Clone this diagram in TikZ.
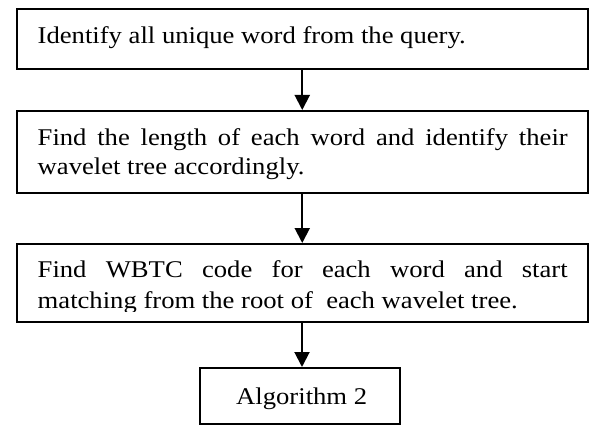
\documentclass[tikz,border=0pt]{standalone}
\usepackage{fontspec}
\setmainfont{Liberation Serif}
\usetikzlibrary{arrows.meta}
\newcommand{\wide}[1]{\scalebox{1.11}[1]{#1}}
\begin{document}
\begin{tikzpicture}[x=1pt,y=-1pt,
  stepbox/.style={draw=black,line width=2pt,rectangle,inner sep=0pt},
  txt/.style={inner sep=0pt,anchor=base west,font=\fontsize{24}{30}\selectfont},
  arr/.style={line width=2pt,-{Triangle[width=15pt,length=15pt]}}]
\useasboundingbox (0,0) rectangle (589,425);
\node[stepbox,minimum width=571.5pt,minimum height=60pt] (b1) at (302.25,39) {};
\node[stepbox,minimum width=571.5pt,minimum height=82pt] (b2) at (302.25,152) {};
\node[stepbox,minimum width=571.5pt,minimum height=78pt] (b3) at (302.25,283) {};
\node[stepbox,minimum width=200pt,minimum height=55.5pt] (b4) at (300,395.75) {};
\node[txt] (t1) at (37.5,44) {\wide{Identify all unique word from the query.}};
\node[txt] (t2a) at (37.5,145.5) {\wide{\makebox[477.5pt][s]{Find the length of each word and identify their}}};
\node[txt] (t2b) at (37.5,175) {\wide{wavelet tree accordingly.}};
\node[txt] (t3a) at (37.5,277) {\wide{\makebox[477.5pt][s]{Find WBTC code for each word and start}}};
\begin{scope}
\clip (16,250) rectangle (588,311);
\node[txt] (t3b) at (37.5,308.5) {\wide{matching from the root of\ \ each wavelet tree.}};
\end{scope}
\node[txt] (t4) at (236,404) {\wide{Algorithm 2}};
\coordinate (ax3) at (302,0);
\draw[arr] (b1.south) -- (b2.north);
\draw[arr] (b2.south) -- (b3.north);
\draw[arr] (b3.south -| ax3) -- (b4.north -| ax3);
\end{tikzpicture}
\end{document}
